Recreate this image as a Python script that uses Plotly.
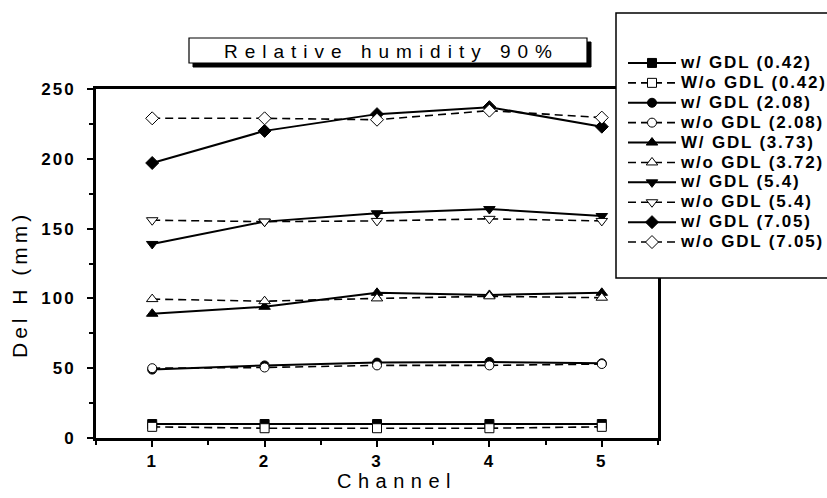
import plotly.graph_objects as go

channels = [1, 2, 3, 4, 5]

w_042 = [10, 10, 10, 10, 10]
wo_042 = [8, 7, 7, 7, 8]
w_208 = [49, 52, 54, 54.5, 53.5]
wo_208 = [50, 50.5, 52, 52, 53]
w_373 = [89, 94, 104, 102.5, 104]
wo_372 = [99.5, 98, 100, 101.5, 100.5]
w_54 = [139, 155, 161, 164, 159]
wo_54 = [156, 155, 155.5, 157, 155.5]
w_705 = [197, 220, 232, 237, 223]
wo_705 = [229, 229, 228, 234.5, 229.5]

series = [
    ("w/ GDL (0.42)", w_042, "square", True),
    ("W/o GDL (0.42)", wo_042, "square", False),
    ("w/ GDL (2.08)", w_208, "circle", True),
    ("w/o GDL (2.08)", wo_208, "circle", False),
    ("W/ GDL (3.73)", w_373, "triangle-up", True),
    ("w/o GDL (3.72)", wo_372, "triangle-up", False),
    ("w/ GDL (5.4)", w_54, "triangle-down", True),
    ("w/o GDL (5.4)", wo_54, "triangle-down", False),
    ("w/ GDL (7.05)", w_705, "diamond", True),
    ("w/o GDL (7.05)", wo_705, "diamond", False),
]

x_ticks = [1, 2, 3, 4, 5]
y_ticks = [0, 50, 100, 150, 200, 250]

title_text = "Relative humidity 90%"
x_title = "Channel"
y_title = "Del H (mm)"

FONT = "Liberation Sans, Arial, sans-serif"


def spaced(t, sp, size=None, bold=False):
    style = "letter-spacing:%spx" % sp
    if size:
        style += ";font-size:%spx" % size
    inner = "<b>%s</b>" % t if bold else t
    return "<span style='%s'>%s</span>" % (style, inner)


fig = go.Figure()
for name, vals, sym, filled in series:
    fig.add_trace(go.Scatter(
        x=channels, y=vals, name=spaced(name, 1.8, size=17, bold=True),
        mode="lines+markers",
        line=dict(color="black", width=2 if filled else 1.6,
                  dash="solid" if filled else "8px,5px"),
        marker=dict(symbol=sym, size=9 if sym in ("square", "circle") else 10,
                    color="black" if filled else "white",
                    line=dict(color="black", width=1)),
    ))

# plot geometry helpers (page pixels -> paper)
L, R, T, B = 96, 658, 89, 438
W, H = 827, 498


def px(xp):
    return (xp - L) / (R - L)


def py(yp):
    return (B - yp) / (B - T)


axis_common = dict(
    showline=True, linecolor="black", linewidth=3, mirror=True,
    ticks="outside", ticklen=6, tickwidth=2, tickcolor="black",
    showgrid=False, zeroline=False,
    tickfont=dict(family=FONT, size=17, color="black"),
    minor=dict(ticks="outside", ticklen=4, tickwidth=1.5, tickcolor="black"),
)

fig.update_xaxes(range=[0.5, 5.5], tickvals=x_ticks,
                 ticktext=[spaced(str(v), 2, bold=True) for v in x_ticks],
                 minor_dtick=0.5, **axis_common)
fig.update_yaxes(range=[0, 250], tickvals=y_ticks,
                 ticktext=[spaced(str(v), 2, bold=True) for v in y_ticks],
                 minor_dtick=25, ticklabelstandoff=8, **axis_common)

shapes = [
    # title box shadow and box
    dict(type="rect", xref="paper", yref="paper", layer="above",
         x0=px(193), x1=px(591), y0=py(67), y1=py(42),
         fillcolor="black", line=dict(color="black", width=1)),
    dict(type="rect", xref="paper", yref="paper", layer="above",
         x0=px(189), x1=px(587), y0=py(63), y1=py(38),
         fillcolor="white", line=dict(color="black", width=1.2)),
    # legend box
    dict(type="rect", xref="paper", yref="paper", layer="above",
         x0=px(616), x1=px(835), y0=py(278), y1=py(13),
         fillcolor="white", line=dict(color="black", width=1.5)),
]

annotations = [
    dict(text=spaced(title_text, 7), xref="paper", yref="paper",
         x=px(391), y=py(51), xanchor="center", yanchor="middle",
         showarrow=False, font=dict(family=FONT, size=19, color="black")),
    dict(text=spaced(x_title, 6.5), xref="paper", yref="paper",
         x=px(397), y=py(481), xanchor="center", yanchor="middle",
         showarrow=False, font=dict(family=FONT, size=20, color="black")),
    dict(text=spaced(y_title, 4), xref="paper", yref="paper",
         x=px(19), y=py(285), xanchor="center", yanchor="middle",
         textangle=-90, showarrow=False,
         font=dict(family=FONT, size=21, color="black")),
]

fig.update_layout(
    width=W, height=H,
    margin=dict(l=L, r=W - R, t=T, b=H - B, autoexpand=False),
    paper_bgcolor="white", plot_bgcolor="white",
    shapes=shapes, annotations=annotations,
    showlegend=True,
    legend=dict(x=px(623), y=py(48), xanchor="left", yanchor="top",
                bgcolor="rgba(0,0,0,0)", borderwidth=0,
                itemwidth=48,
                font=dict(family=FONT, size=13, color="black"),
                tracegroupgap=0),
)

fig.write_html("out.html")
